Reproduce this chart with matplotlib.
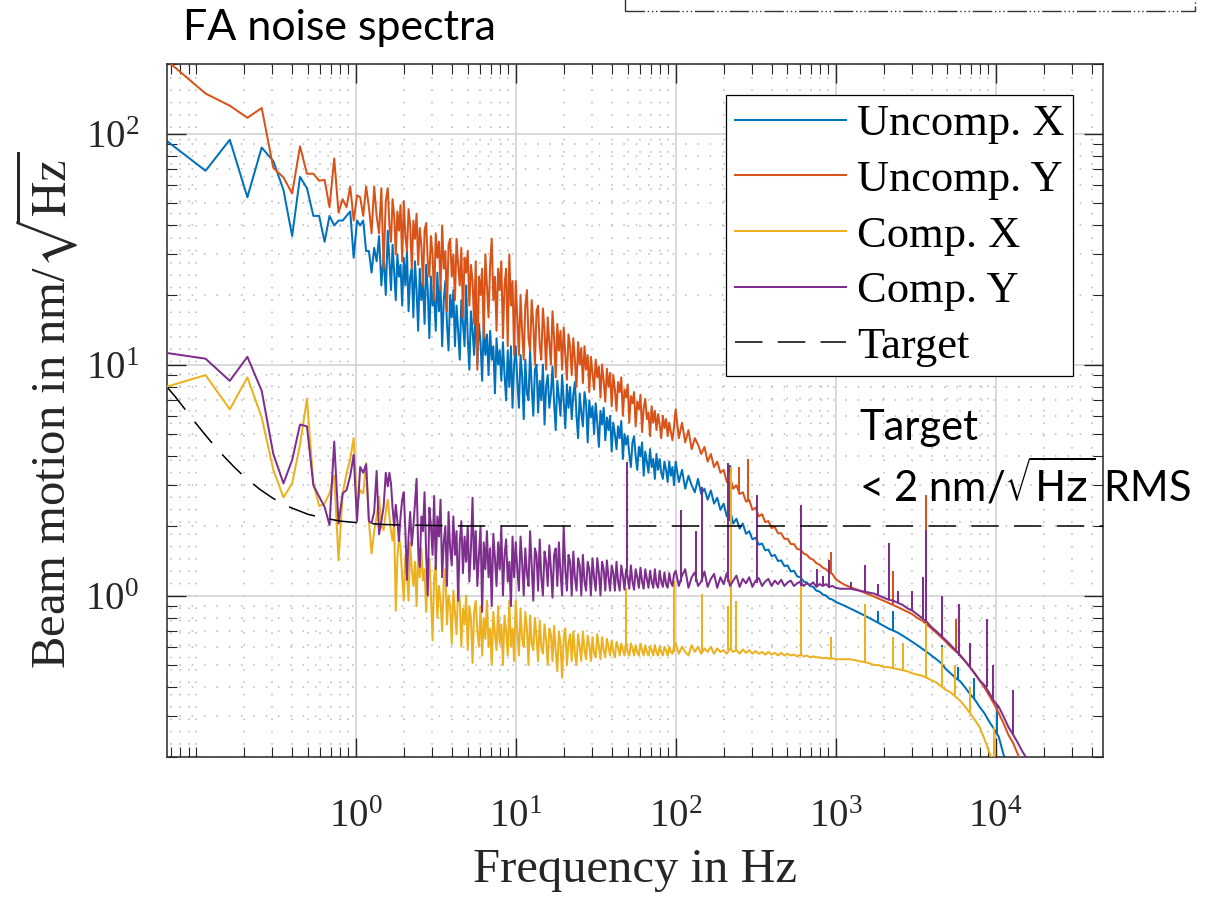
import matplotlib
matplotlib.use("Agg")
import matplotlib.pyplot as plt
from matplotlib.patches import Rectangle
from matplotlib.ticker import FixedLocator, LogFormatterSciNotation, NullFormatter

# ---------------------------------------------------------------- data
# Frequency grid (Hz) shared by the four spectra
freq = [
    0.067, 0.115, 0.163, 0.21, 0.258, 0.305, 0.353, 0.4,
    0.448, 0.495, 0.543, 0.59, 0.638, 0.685, 0.733, 0.78,
    0.828, 0.875, 0.923, 0.97, 1.018, 1.065, 1.113, 1.16,
    1.208, 1.255, 1.303, 1.35, 1.398, 1.445, 1.493, 1.54,
    1.585, 1.622, 1.660, 1.698, 1.738, 1.778, 1.820, 1.862, 1.905, 1.950,
    1.995, 2.042, 2.089, 2.138, 2.188, 2.239, 2.291, 2.344, 2.399, 2.455,
    2.512, 2.570, 2.630, 2.692, 2.754, 2.818, 2.884, 2.951, 3.020, 3.090,
    3.162, 3.236, 3.311, 3.388, 3.467, 3.548, 3.631, 3.715, 3.802, 3.890,
    3.981, 4.074, 4.169, 4.266, 4.365, 4.467, 4.571, 4.677, 4.786, 4.898,
    5.012, 5.129, 5.248, 5.370, 5.495, 5.623, 5.754, 5.888, 6.026, 6.166,
    6.310, 6.457, 6.607, 6.761, 6.918, 7.079, 7.244, 7.413, 7.586, 7.762,
    7.943, 8.128, 8.318, 8.511, 8.710, 8.913, 9.120, 9.333, 9.550, 9.772,
    10.00, 10.23, 10.47, 10.72, 10.96, 11.22, 11.48, 11.75, 12.02, 12.30,
    12.59, 12.88, 13.18, 13.49, 13.80, 14.13, 14.45, 14.79, 15.14, 15.49,
    15.85, 16.22, 16.60, 16.98, 17.38, 17.78, 18.20, 18.62, 19.05, 19.50,
    19.95, 20.42, 20.89, 21.38, 21.88, 22.39, 22.91, 23.44, 23.99, 24.55,
    25.12, 25.70, 26.30, 26.92, 27.54, 28.18, 28.84, 29.51, 30.20, 30.90,
    31.62, 32.36, 33.11, 33.88, 34.67, 35.48, 36.31, 37.15, 38.02, 38.90,
    39.81, 40.74, 41.69, 42.66, 43.65, 44.67, 45.71, 46.77, 47.86, 48.98,
    50.12, 51.29, 52.48, 53.70, 54.95, 56.23, 57.54, 58.88, 60.26, 61.66,
    63.10, 64.57, 66.07, 67.61, 69.18, 70.79, 72.44, 74.13, 75.86, 77.62,
    79.43, 81.28, 83.18, 85.11, 87.10, 89.13, 91.20, 93.33, 95.50, 97.72,
    100.0, 104.7, 109.6, 114.8, 120.2, 125.9, 131.8, 138.0, 144.5, 151.4,
    158.5, 166.0, 173.8, 182.0, 190.5, 199.5, 208.9, 218.8, 229.1, 239.9,
    251.2, 263.0, 275.4, 288.4, 302.0, 316.2, 331.1, 346.7, 363.1, 380.2,
    398.1, 416.9, 436.5, 457.1, 478.6, 501.2, 524.8, 549.5, 575.4, 602.6,
    631.0, 660.7, 691.8, 724.4, 758.6, 794.3, 831.8, 871.0, 912.0, 955.0,
    1000, 1072, 1148, 1230, 1318, 1413, 1514, 1622, 1738, 1862,
    1995, 2138, 2291, 2455, 2630, 2818, 3020, 3236, 3467, 3715,
    3981, 4266, 4571, 4898, 5248, 5623, 6026, 6457, 6918, 7413,
    7943, 8511, 9120, 9772, 10471, 11220, 12023, 12882, 13804, 14791,
    15849, 16982,
]

# Beam motion spectra in nm/sqrt(Hz)
uncomp_x = [
    92, 69, 94, 53, 87, 76, 57, 36,
    65, 58, 44, 44, 34, 44, 40, 42,
    42, 44, 46, 29, 42, 40, 42, 31,
    31, 25, 32, 28, 36, 22, 30, 20,
    38, 28, 21, 33, 25, 19, 30, 24, 27, 18,
    29, 22, 31, 17, 24, 26, 16, 28, 21, 14,
    26, 19, 23, 15, 27, 21, 13, 24, 18, 20,
    14, 25, 17, 22, 12, 19, 23, 15, 11.5, 20,
    16, 21, 12, 18, 14, 10.5, 19, 15, 12, 22,
    13, 9.5, 17, 14, 11, 18, 10, 15, 12.5, 8.5,
    15, 11, 13.5, 9, 14, 10.5, 12, 7.5, 13, 10,
    11.5, 8.5, 12.5, 9, 7, 11.5, 8, 12, 6.5, 10,
    12, 8.5, 6.5, 11, 9, 5.8, 10.5, 7.5, 7, 11.5,
    8, 6, 9.5, 10, 6.2, 8.5, 7, 10, 5.5, 8,
    9, 6.5, 7.5, 9.8, 6.8, 5.2, 8.5, 7.2, 6, 9,
    7, 5.3, 8.2, 6.5, 8, 5.8, 7.4, 8.4, 6, 4.8,
    7.5, 6.2, 5.4, 7.6, 6.8, 4.6, 7, 5.9, 6.6, 5,
    6.8, 5.6, 4.4, 6.3, 5.5, 6.5, 4.7, 5.9, 5.2, 6.0,
    4.2, 5.6, 5.0, 4.3, 5.4, 4.8, 5.7, 3.9, 5.0, 4.5,
    4.9, 4.1, 3.6, 4.6, 4.9, 4.0, 3.5, 4.4, 4.0, 4.6,
    3.3, 4.2, 3.8, 3.4, 4.3, 3.6, 3.9, 3.2, 4.1, 3.5,
    3.9, 3.4, 3.2, 3.8, 3.5, 3.1, 3.8, 3.3, 3.6, 3.0,
    3.8, 3.1, 3.5, 2.9, 3.3, 3.0, 2.8, 3.2, 2.75, 2.9,
    2.6, 2.85, 2.5, 2.65, 2.35, 2.5, 2.2, 2.35, 2.05, 2.15,
    1.95, 2.05, 1.85, 1.9, 1.75, 1.78, 1.66, 1.68, 1.57, 1.58,
    1.48, 1.5, 1.41, 1.42, 1.34, 1.35, 1.27, 1.28, 1.21, 1.2,
    1.15, 1.14, 1.1, 1.09, 1.05, 1.04, 1.01, 1.0, 0.97, 0.96,
    0.94, 0.92, 0.9, 0.88, 0.86, 0.84, 0.82, 0.8, 0.78, 0.76,
    0.74, 0.72, 0.705, 0.69, 0.67, 0.65, 0.63, 0.61, 0.59, 0.57,
    0.55, 0.53, 0.51, 0.48, 0.46, 0.44, 0.425, 0.4, 0.375, 0.355,
    0.33, 0.31, 0.285, 0.265, 0.245, 0.205, 0.18, 0.155, 0.13, 0.11,
    0.09, 0.075,
]

uncomp_y = [
    205, 149, 132, 117, 129, 71, 64.6, 55,
    88, 67, 67, 62.5, 63, 48, 78, 45.5,
    52, 48, 59, 42, 54, 53, 44, 59,
    48, 37, 59, 44, 37, 58, 26, 51,
    58, 40, 34, 52, 44, 30, 46, 38, 49, 28,
    51, 36, 31, 47, 40, 26, 42, 35, 45, 27,
    39, 33, 22, 38, 41, 28, 24, 36, 30, 19,
    37, 29, 34, 21, 40, 26, 31, 17, 33, 35,
    24, 30, 19, 35, 27, 22, 32, 16, 29, 25,
    31, 18, 27, 23, 15, 28, 9.5, 24, 20, 26,
    13, 30, 22, 16, 27, 35, 19, 24, 14, 26,
    21, 28, 13, 22, 26, 12, 30, 18, 23, 11,
    23, 16, 11, 20, 14, 10.5, 18, 21, 13, 11.5,
    19, 15, 10, 17, 18, 12, 10.5, 17.5, 14, 9.5,
    16, 12.5, 10, 17, 13, 8.8, 15, 11.5, 14, 9.5,
    14.5, 11, 8.6, 13.5, 12, 9, 13, 10.5, 8, 12.5,
    10, 11.8, 8.3, 12, 9.5, 11, 7.6, 10.8, 9.2, 7.8,
    10.5, 8.8, 9.8, 7.2, 10, 8.5, 6.9, 9.6, 8, 9.2,
    6.6, 9, 7.8, 6.3, 8.4, 7.6, 8.8, 6, 7.8, 7.2,
    8.2, 5.6, 7.3, 6.8, 7.6, 5.4, 6.9, 6.4, 7.4, 5.1,
    6.5, 7.1, 5.8, 6.2, 4.9, 6.6, 5.6, 6.3, 5.2, 6.1,
    5.5, 4.8, 6.0, 5.3, 5.8, 4.9, 5.6, 5.1, 4.7, 5.4,
    6.4, 4.8, 5.6, 4.6, 5.2, 4.3, 4.8, 4.5, 4.1, 4.4,
    3.8, 4.1, 3.6, 3.8, 3.4, 3.5, 3.1, 3.25, 2.9, 3.0,
    2.75, 2.8, 2.55, 2.6, 2.35, 2.4, 2.2, 2.25, 2.08, 2.1,
    1.96, 1.98, 1.86, 1.86, 1.76, 1.76, 1.67, 1.67, 1.59, 1.58,
    1.52, 1.5, 1.45, 1.43, 1.38, 1.36, 1.32, 1.3, 1.26, 1.24,
    1.18, 1.14, 1.11, 1.09, 1.07, 1.05, 1.03, 1.01, 0.99, 0.97,
    0.95, 0.93, 0.91, 0.89, 0.87, 0.85, 0.83, 0.8, 0.78, 0.75,
    0.72, 0.69, 0.66, 0.63, 0.6, 0.575, 0.55, 0.52, 0.49, 0.46,
    0.43, 0.4, 0.37, 0.34, 0.31, 0.28, 0.25, 0.23, 0.205, 0.18,
    0.16, 0.14,
]

comp_x = [
    8.05, 9.0, 6.4, 8.8, 5.9, 3.5, 2.66, 3.06,
    4.5, 7.1, 3.06, 2.44, 2.5, 2.77, 3.3, 1.42,
    2.77, 3.38, 3.9, 4.8, 2.46, 2.86, 2.77, 3.74,
    2.1, 1.52, 1.9, 2.19, 2.68, 2.0, 1.92, 2.3,
    2.6, 2.2, 1.9, 1.73, 2.1, 0.86, 1.45, 1.8, 1.6, 1.2,
    0.95, 1.5, 1.25, 0.95, 1.7, 1.3, 1.1, 1.4, 0.9, 1.55,
    1.2, 1.6, 1.16, 1.3, 0.85, 1.25, 1.45, 1.0, 0.64, 1.2,
    1.35, 0.8, 1.1, 0.95, 0.7, 1.15, 1.3, 0.75, 1.0, 0.9,
    0.62, 1.05, 0.85, 0.68, 1.1, 0.95, 0.6, 0.88, 0.75, 1.0,
    0.58, 0.9, 0.8, 0.51, 0.85, 0.95, 0.7, 0.6, 0.9, 0.55,
    0.8, 0.65, 0.95, 0.6, 0.72, 0.5, 0.85, 0.68, 0.58, 0.9,
    0.62, 0.75, 0.5, 0.82, 0.7, 0.55, 0.95, 0.6, 0.72, 0.52,
    0.95, 0.7, 0.55, 0.88, 0.65, 0.6, 0.85, 0.72, 0.5, 0.82,
    0.62, 0.58, 0.8, 0.66, 0.52, 0.78, 0.6, 0.56, 0.75, 0.64,
    0.5, 0.72, 0.68, 0.52, 0.74, 0.58, 0.47, 0.7, 0.62, 0.44,
    0.66, 0.72, 0.5, 0.62, 0.68, 0.52, 0.7, 0.56, 0.5, 0.68,
    0.6, 0.52, 0.7, 0.58, 0.53, 0.67, 0.61, 0.52, 0.66, 0.56,
    0.54, 0.68, 0.6, 0.53, 0.66, 0.58, 0.54, 0.65, 0.6, 0.55,
    0.64, 0.57, 0.54, 0.63, 0.6, 0.55, 0.62, 0.58, 0.55, 0.63,
    0.57, 0.55, 0.62, 0.59, 0.55, 0.61, 0.57, 0.55, 0.62, 0.58,
    0.55, 0.61, 0.57, 0.55, 0.6, 0.58, 0.55, 0.61, 0.57, 0.55,
    0.6, 0.57, 0.55, 0.6, 0.58, 0.55, 0.6, 0.57, 0.56, 0.6,
    0.62, 0.56, 0.6, 0.57, 0.55, 0.61, 0.57, 0.6, 0.56, 0.59,
    0.57, 0.6, 0.56, 0.59, 0.57, 0.58, 0.56, 0.59, 0.57, 0.58,
    0.56, 0.585, 0.565, 0.58, 0.56, 0.575, 0.56, 0.57, 0.555, 0.57,
    0.555, 0.565, 0.55, 0.565, 0.55, 0.56, 0.55, 0.555, 0.545, 0.555,
    0.545, 0.55, 0.54, 0.545, 0.54, 0.54, 0.535, 0.538, 0.532, 0.535,
    0.53, 0.53, 0.53, 0.53, 0.525, 0.52, 0.515, 0.51, 0.5, 0.5,
    0.49, 0.49, 0.485, 0.48, 0.475, 0.47, 0.46, 0.455, 0.45, 0.44,
    0.43, 0.42, 0.405, 0.39, 0.38, 0.365, 0.35, 0.33, 0.31, 0.29,
    0.27, 0.24, 0.21, 0.19, 0.17, 0.14, 0.12, 0.1, 0.085, 0.07,
    0.06, 0.05,
]

comp_y = [
    11.2, 10.6, 8.5, 10.8, 7.7, 4.1, 3.06, 3.86,
    5.5, 5.4, 3.0, 2.68, 2.42, 2.02, 4.64, 2.05,
    2.77, 2.86, 3.3, 4.06, 2.1, 3.6, 3.4, 3.7,
    2.1, 2.06, 2.3, 3.46, 1.84, 2.1, 2.42, 3.4,
    2.97, 3.4, 3.05, 2.4, 2.0, 2.47, 2.1, 1.72, 2.2, 2.6,
    2.8, 1.9, 1.17, 1.8, 2.3, 1.65, 2.0, 2.5, 3.2, 1.6,
    1.33, 2.2, 1.9, 2.8, 1.5, 1.0, 2.4, 2.0, 1.5, 2.7,
    1.3, 2.2, 1.8, 2.6, 1.2, 1.7, 2.0, 1.1, 2.3, 1.6,
    1.35, 2.2, 1.5, 1.9, 0.95, 1.7, 2.1, 1.25, 1.8, 1.4,
    2.0, 1.15, 1.6, 2.65, 1.3, 1.9, 1.1, 1.5, 2.0, 0.85,
    1.7, 1.3, 1.9, 1.2, 1.6, 0.9, 1.85, 1.45, 1.1, 1.7,
    1.3, 2.0, 1.0, 1.5, 1.75, 1.15, 1.4, 0.9, 1.8, 1.2,
    1.7, 1.3, 1.05, 1.8, 1.4, 1.0, 1.6, 1.25, 1.1, 1.9,
    1.35, 0.95, 1.6, 1.5, 1.05, 1.75, 1.2, 1.0, 1.55, 1.4,
    1.1, 1.65, 1.3, 0.98, 1.5, 1.6, 1.1, 1.7, 1.25, 1.0,
    2.0, 1.3, 1.05, 1.5, 1.4, 1.0, 1.55, 1.2, 1.05, 1.45,
    1.35, 1.0, 1.5, 1.15, 1.05, 1.4, 1.3, 1.0, 1.45, 1.2,
    1.05, 1.45, 1.25, 1.0, 1.4, 1.3, 1.05, 1.42, 1.2, 1.05,
    1.35, 1.25, 1.05, 1.4, 1.15, 1.05, 1.35, 1.22, 1.06, 1.3,
    1.2, 1.07, 1.35, 1.15, 1.06, 1.3, 1.2, 1.08, 1.32, 1.15,
    1.07, 1.3, 1.18, 1.08, 1.28, 1.15, 1.08, 1.3, 1.12, 1.08,
    1.28, 1.15, 1.09, 1.26, 1.12, 1.08, 1.25, 1.14, 1.1, 1.24,
    1.28, 1.1, 1.22, 1.3, 1.08, 1.2, 1.26, 1.1, 1.15, 1.27,
    1.09, 1.18, 1.24, 1.08, 1.2, 1.12, 1.25, 1.1, 1.16, 1.22,
    1.09, 1.18, 1.13, 1.2, 1.09, 1.16, 1.19, 1.1, 1.15, 1.18,
    1.1, 1.16, 1.12, 1.17, 1.1, 1.14, 1.16, 1.1, 1.13, 1.15,
    1.1, 1.13, 1.11, 1.14, 1.09, 1.12, 1.1, 1.12, 1.09, 1.1,
    1.08, 1.07, 1.07, 1.07, 1.06, 1.05, 1.04, 1.03, 1.02, 1.0,
    0.98, 0.96, 0.95, 0.93, 0.91, 0.88, 0.86, 0.83, 0.8, 0.77,
    0.73, 0.7, 0.67, 0.64, 0.61, 0.58, 0.55, 0.52, 0.49, 0.46,
    0.43, 0.41, 0.38, 0.35, 0.33, 0.3, 0.27, 0.25, 0.23, 0.21,
    0.195, 0.175,
]

# Narrow spectral lines: frequency, foot level, peak level
uncomp_x_lines_f = [218, 1850, 2300, 3700, 4650, 5800, 7300, 10200]
uncomp_x_lines_lo = [2.1, 0.76, 0.7, 0.57, 0.51, 0.43, 0.36, 0.25]
uncomp_x_lines_hi = [3.67, 0.86, 0.86, 0.73, 0.61, 0.49, 0.44, 0.34]

uncomp_y_lines_f = [218, 250, 285, 940, 2300, 3700, 4600, 5700, 6900]
uncomp_y_lines_lo = [3.1, 2.75, 2.55, 1.25, 0.91, 0.76, 0.65, 0.57, 0.49]
uncomp_y_lines_hi = [3.4, 3.6, 3.9, 1.54, 1.28, 2.72, 0.95, 0.79, 0.62]

comp_x_lines_f = [49, 98, 147, 211, 222, 237, 610, 940, 1530, 2300,
                  2630, 3700, 4600, 5600, 6900, 9800]
comp_x_lines_lo = [0.6, 0.57, 0.57, 0.58, 0.58, 0.58, 0.55, 0.53, 0.515, 0.485,
                   0.475, 0.44, 0.405, 0.37, 0.31, 0.19]
comp_x_lines_hi = [1.08, 1.16, 1.02, 0.9, 3.6, 0.95, 1.2, 0.66, 0.92, 0.66,
                   0.62, 0.76, 0.6, 0.5, 0.4, 0.27]

comp_y_lines_f = [49.5, 108, 135, 147, 214, 324, 610, 760, 840, 915,
                  1250, 1530, 1850, 2150, 2450, 3000, 3500, 3700, 4650, 5950,
                  6900, 8800, 9600, 12800]
comp_y_lines_lo = [1.2, 1.15, 1.15, 1.15, 1.15, 1.13, 1.1, 1.1, 1.1, 1.08,
                   1.07, 1.04, 1.0, 0.96, 0.93, 0.86, 0.8, 0.77, 0.66, 0.55,
                   0.49, 0.4, 0.355, 0.25]
comp_y_lines_hi = [3.78, 2.34, 1.9, 2.95, 3.75, 2.72, 2.46, 1.3, 1.22, 1.42,
                   1.15, 1.35, 1.12, 1.68, 1.05, 1.05, 1.2, 1.92, 1.0, 0.92,
                   0.62, 0.79, 0.5, 0.39]

# Target curve
target_freq = [0.067, 0.075, 0.085, 0.1, 0.115, 0.13, 0.15, 0.175, 0.2, 0.25,
               0.3, 0.35, 0.4, 0.5, 0.6, 0.8, 1.0, 1.5, 2.0, 3.0,
               5.0, 10, 100, 1000, 10000, 50000]
target_level = [7.9, 7.2, 6.44, 5.57, 4.94, 4.47, 4.0, 3.58, 3.28, 2.89,
                2.65, 2.49, 2.39, 2.25, 2.18, 2.10, 2.07, 2.03, 2.02, 2.01,
                2.0, 2.0, 2.0, 2.0, 2.0, 2.0]

series_labels = ["Uncomp. X", "Uncomp. Y", "Comp. X", "Comp. Y", "Target"]
x_major = [1, 10, 100, 1000, 10000]
y_major = [1, 10, 100]

# ---------------------------------------------------------------- style
plt.rcParams["font.family"] = ["Liberation Serif", "DejaVu Serif"]
plt.rcParams["mathtext.fontset"] = "stix"

C_BLUE = "#0072BD"
C_ORANGE = "#D95319"
C_YELLOW = "#EDB120"
C_PURPLE = "#7E2F8E"
C_AXIS = "#262626"
LW = 1.45

fig = plt.figure(figsize=(12.08, 8.99), dpi=100)
ax = fig.add_axes([167 / 1208, 142 / 899, 936 / 1208, 693 / 899])
ax.set_xscale("log")
ax.set_yscale("log")

spectra = [
    (uncomp_x, uncomp_x_lines_f, uncomp_x_lines_lo, uncomp_x_lines_hi, C_BLUE),
    (uncomp_y, uncomp_y_lines_f, uncomp_y_lines_lo, uncomp_y_lines_hi, C_ORANGE),
    (comp_x, comp_x_lines_f, comp_x_lines_lo, comp_x_lines_hi, C_YELLOW),
    (comp_y, comp_y_lines_f, comp_y_lines_lo, comp_y_lines_hi, C_PURPLE),
]
handles = []
for i, (vals, lf, lo, hi, col) in enumerate(spectra):
    z = 2 + i
    h, = ax.plot(freq, vals, color=col, lw=LW, zorder=z)
    ax.vlines(lf, lo, hi, colors=col, lw=LW, zorder=z)
    handles.append(h)

h_t, = ax.plot(target_freq, target_level, color="black", lw=1.1,
               dashes=(18, 10), zorder=7)
handles.append(h_t)

ax.set_xlim(0.066, 4.7e4)
ax.set_ylim(0.2, 200)

# ticks
x_minor = [k * 10.0 ** e for e in range(-2, 5) for k in range(1, 10)
           if k * 10.0 ** e not in x_major and 0.066 < k * 10.0 ** e < 4.7e4]
y_minor = [k * 10.0 ** e for e in range(-1, 3) for k in range(1, 10)
           if k * 10.0 ** e not in y_major and 0.2 <= k * 10.0 ** e <= 200]
ax.xaxis.set_major_locator(FixedLocator(x_major))
ax.xaxis.set_minor_locator(FixedLocator(x_minor))
ax.yaxis.set_major_locator(FixedLocator(y_major))
ax.yaxis.set_minor_locator(FixedLocator(y_minor))
ax.xaxis.set_major_formatter(LogFormatterSciNotation())
ax.yaxis.set_major_formatter(LogFormatterSciNotation())
ax.xaxis.set_minor_formatter(NullFormatter())
ax.yaxis.set_minor_formatter(NullFormatter())

ax.tick_params(which="both", direction="in", top=True, right=True,
               color=C_AXIS, labelcolor=C_AXIS)
ax.tick_params(which="major", length=14, width=1.0, labelsize=28)
ax.tick_params(axis="x", which="major", pad=30)
ax.tick_params(axis="y", which="major", pad=20)
ax.tick_params(which="minor", length=7, width=0.8)

for sp in ax.spines.values():
    sp.set_color(C_AXIS)
    sp.set_linewidth(1.1)

ax.set_axisbelow(True)
ax.grid(True, which="major", color="#d0d0d0", lw=1.1, ls="-")
ax.grid(True, which="minor", color="#bcbcbc", lw=1.2, ls=(0, (0.9, 6.5)))

ax.set_xlabel("Frequency in Hz", fontsize=35, color=C_AXIS, labelpad=9)
ax.set_ylabel(r"Beam motion in nm/$\sqrt{\mathrm{Hz}}$", fontsize=35,
              color=C_AXIS)
ax.yaxis.set_label_coords(-0.092, 0.5)

leg = ax.legend(handles, series_labels, loc="upper right",
                bbox_to_anchor=(0.968, 0.955), borderaxespad=0,
                fontsize=32, frameon=True, fancybox=False, framealpha=1,
                edgecolor="black", handlelength=2.5, handletextpad=0.25,
                labelspacing=0.35, borderpad=0.2)
leg.get_frame().set_linewidth(0.9)
leg.set_zorder(10)

# figure texts
fig.text(183 / 1208, 1 - 40 / 899, "FA noise spectra", family="Lato",
         fontsize=31, va="baseline", ha="left")
fig.text(859 / 1208, 1 - 440 / 899, "Target", family="Lato",
         fontsize=30, va="baseline", ha="left")
fig.text(859 / 1208, 1 - 502 / 899, r"< 2 nm/$\sqrt{\mathrm{Hz}}$ RMS",
         family="Lato", fontsize=30, va="baseline", ha="left",
         math_fontfamily="dejavusans")

# frame of the panel above
fig.add_artist(Rectangle((625 / 1208, 1 - 11 / 899), (1195 - 625) / 1208, 0.05,
                         transform=fig.transFigure, fill=False,
                         edgecolor="#333333", lw=1.0,
                         linestyle=(0, (14, 2, 1, 2, 1, 2, 1, 2)),
                         clip_on=False))

fig.savefig("out.png", dpi=100)
